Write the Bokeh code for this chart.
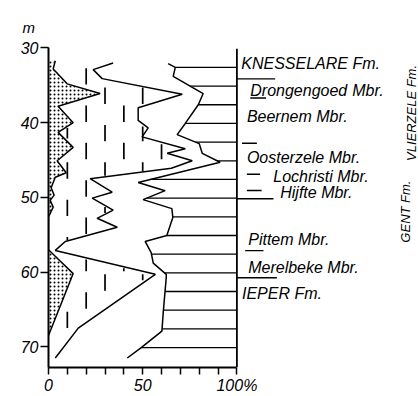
import numpy as np
from bokeh.plotting import figure
from bokeh.models import Range1d, FixedTicker
from bokeh.core.properties import value
from bokeh.embed import file_html
from bokeh.resources import INLINE

# ---- data (percent cumulative curves vs depth in m) ----
sand_pct = [3.6, 2.5, 9.9, 27.4, 5.1, 13.1, 5.1, 13.1, 4.6, 9.4, 3.6, 1.4, 3.0, 0.9, 2.5, 0.0, 0.0, 13.1, 0.0]
sand_depth = [31.7, 32.8, 34.8, 36.1, 37.8, 40.0, 41.3, 43.3, 45.1, 46.7, 47.3, 48.7, 49.7, 50.4, 51.3, 52.6, 57.0, 60.2, 68.5]

silt_pct = [34.3, 23.7, 28.5, 71.0, 47.6, 47.6, 52.9, 49.7, 72.6, 63.0, 76.3, 65.2, 22.1, 33.8, 23.2, 34.3,
            25.8, 36.5, 8.9, 3.6, 56.7, 15.8, 3.6]
silt_depth = [32.0, 32.9, 34.1, 36.2, 38.0, 39.7, 40.7, 41.9, 43.5, 44.1, 45.1, 46.1, 47.5, 49.3, 50.1, 51.7,
              52.8, 54.0, 55.9, 57.1, 60.3, 67.5, 71.5]

clay_pct = [63.5, 67.3, 66.2, 82.1, 79.5, 72.6, 68.3, 80.0, 81.6, 91.1, 47.6, 61.9, 50.2, 65.5, 66.0, 62.8,
            51.3, 54.5, 55.6, 62.5, 62.5, 60.9, 60.2, 48.7, 41.8]
clay_depth = [32.1, 32.6, 33.8, 36.1, 37.6, 40.1, 41.6, 42.8, 44.1, 45.3, 48.0, 49.1, 50.3, 51.5, 52.7, 55.1,
              55.9, 57.4, 58.8, 60.3, 60.7, 65.4, 67.9, 70.2, 71.5]

depth_ticks = [30, 40, 50, 60, 70]
pct_ticks = [0, 10, 20, 30, 40, 50, 60, 70, 80, 90, 100]
pct_labels = {0: "0", 50: "50", 100: "100%"}

unit_names = ["KNESSELARE Fm.", "Drongengoed", "Mbr.", "Beernem Mbr.", "Oosterzele Mbr.",
              "Lochristi Mbr.", "Hijfte Mbr.", "Pittem Mbr.", "Merelbeke Mbr.", "IEPER Fm."]
unit_x = [102.3, 107.1, 161.2, 105.3, 105.3, 119.3, 123.0, 106.0, 106.0, 102.7]
unit_depth = [32.12, 35.69, 35.69, 39.17, 44.66, 47.2, 49.34, 55.64, 59.45, 62.8]

# boundary marks at the right: (x0, x1, depth)
bound_x0 = [100, 107.1, 102.7, 105.3, 105.3, 100, 104.4, 100]
bound_x1 = [120.3, 115.5, 110.6, 112.3, 113.1, 119.4, 114.1, 121.2]
bound_depth = [34.14, 36.7, 42.75, 46.9, 49.08, 50.19, 57.13, 60.75]

FONT_NAME = "Liberation Sans"
FONT = value(FONT_NAME)

top = 29.80
bottom = top + 321 / 7.47
p = figure(width=418, height=396, output_backend="svg", toolbar_location=None,
           x_range=Range1d(0, 370 / 1.884), y_range=Range1d(bottom, top),
           min_border_left=48, min_border_right=0, min_border_top=46, min_border_bottom=29,
           title="m")
p.outline_line_color = None
p.grid.visible = False
p.background_fill_color = "white"
p.title.align = "left"
p.title.offset = -26
p.title.text_font = FONT_NAME
p.title.text_font_style = "italic"
p.title.text_font_size = "15px"
p.title.text_color = "black"
p.title.standoff = 22

# axes
xa = p.xaxis[0]
xa.ticker = FixedTicker(ticks=pct_ticks)
xa.major_label_overrides = {t: pct_labels.get(t, "") for t in pct_ticks}
xa.bounds = (0, 100)
xa.minor_tick_line_color = None
xa.major_tick_in = 0
xa.major_tick_out = 7
xa.major_label_standoff = 2
xa.axis_line_width = 2
xa.major_tick_line_width = 1.5
xa.major_label_text_font = FONT_NAME
xa.major_label_text_font_style = "italic"
xa.major_label_text_font_size = "16px"
xa.major_label_text_color = "black"
xa.axis_line_color = "black"

ya = p.yaxis[0]
ya.ticker = FixedTicker(ticks=depth_ticks)
ya.bounds = (30, bottom)
ya.minor_tick_line_color = None
ya.major_tick_in = 0
ya.major_tick_out = 8
ya.major_label_standoff = 2
ya.axis_line_width = 2
ya.major_tick_line_width = 1.5
ya.major_label_text_font = FONT_NAME
ya.major_label_text_font_style = "italic"
ya.major_label_text_font_size = "16px"
ya.major_label_text_color = "black"
ya.axis_line_color = "black"

# sand stipple
px = [0] + sand_pct + [0]
py = [sand_depth[0]] + sand_depth + [sand_depth[-1]]
p.patch(px, py, fill_alpha=0, line_color=None, hatch_pattern="dot", hatch_color="black",
        hatch_scale=4, hatch_weight=1)
p.line(sand_pct, sand_depth, line_color="black", line_width=1.5)

# silt dashes between sand and silt curves (clipped to the silt band)
sx0, sx1, sy0, sy1 = [], [], [], []
for c in range(10, 90, 10):
    phase = 32.7 if (c // 10) % 2 == 0 else 35.3
    s = phase
    while s < 71.5:
        pts = np.linspace(s, s + 2.2, 12)
        inside = []
        for d in pts:
            lo = np.interp(d, sand_depth, sand_pct)
            hi = np.interp(d, silt_depth, silt_pct)
            inside.append(lo + 1.2 < c < hi - 1.2 and silt_depth[0] <= d <= silt_depth[-1])
        idx = [i for i, v in enumerate(inside) if v]
        if len(idx) >= 3:
            sx0.append(c); sx1.append(c); sy0.append(pts[idx[0]]); sy1.append(pts[idx[-1]])
        s += 5.0
p.segment(sx0, sy0, sx1, sy1, line_color="black", line_width=1.7)

p.line(silt_pct, silt_depth, line_color="black", line_width=1.5)

# clay hatching
hd = np.arange(32.6, 70.5, 2.5)
hx = np.interp(hd, clay_depth, clay_pct)
p.segment(hx, hd, [100] * len(hd), hd, line_color="black", line_width=1.3)
p.line(clay_pct, clay_depth, line_color="black", line_width=1.5)

# right 100% line
p.segment([100], [30.1], [100], [bottom], line_color="black", line_width=1.8)

# boundaries
p.segment(bound_x0, bound_depth, bound_x1, bound_depth, line_color="black", line_width=1.4)

# unit labels
p.text(unit_x, unit_depth, text=unit_names, text_font=FONT, text_font_style="italic",
       text_font_size="16px", text_baseline="middle", text_align="left", text_color="black")

p.text([189.5, 192.5], [51.9, 38.7], text=["GENT Fm.", "VLIERZELE Fm."], angle=np.pi / 2,
       text_font=FONT, text_font_style="italic", text_font_size="13px",
       text_baseline="middle", text_align="center", text_color="black")

open("out.html", "w").write(file_html(p, INLINE))
